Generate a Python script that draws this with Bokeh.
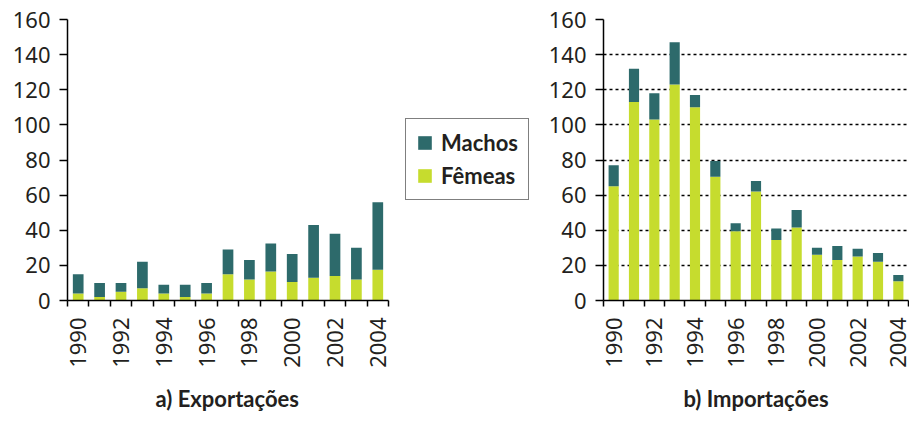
from bokeh.plotting import figure
from bokeh.layouts import row
from bokeh.models import (ColumnDataSource, Range1d, FixedTicker, Legend, LegendItem, Title)
from bokeh.embed import file_html
from bokeh.resources import INLINE

# ---- data ----
years = [1990, 1991, 1992, 1993, 1994, 1995, 1996, 1997, 1998, 1999, 2000, 2001, 2002, 2003, 2004]
label_years = [1990, 1992, 1994, 1996, 1998, 2000, 2002, 2004]
y_ticks = [0, 20, 40, 60, 80, 100, 120, 140, 160]

exp_femeas = [4, 2, 5, 7, 4, 2, 4, 15, 12, 16.5, 10.5, 13, 14, 12, 17.5]
exp_machos = [11, 8, 5, 15, 5, 7, 6, 14, 11, 16, 16, 30, 24, 18, 38.5]

imp_femeas = [65, 113, 103, 123, 110, 70.5, 39.5, 62, 34.5, 41.5, 26, 23, 25, 22, 11]
imp_machos = [12, 19, 15, 24, 7, 9, 4.5, 6, 6.5, 10, 4, 8, 4.5, 5, 3.5]

series = ["Fêmeas", "Machos"]
titles = ["a) Exportações", "b) Importações"]

C_MACHOS = "#2d6a6b"
C_FEMEAS = "#c6dc2e"
TXT = "#231f20"
NUM_FONT = "Noto Sans"
BOLD_FONT = "Lato"

H = 423
TOP = 19
FRAME_H = 285
TITLE_W = 145  # approx. rendered width of the chart title text, px


def make_fig(fem, mac, title, grid, width, border_left, border_right, axis_px):
    frame_w = width - border_left - border_right
    x0 = years[0] - 0.5
    x1 = years[-1] + 0.5
    # the axis itself spans axis_px pixels; the frame may be wider (room for the legend)
    x_end = x0 + (x1 - x0) * frame_w / axis_px
    src = ColumnDataSource(dict(year=years, fem=fem, mac=mac))
    p = figure(width=width, height=H,
               x_range=Range1d(x0, x_end),
               y_range=Range1d(0, 160),
               output_backend="svg", toolbar_location=None,
               min_border_left=border_left, min_border_top=TOP,
               min_border_right=border_right, min_border_bottom=H - TOP - FRAME_H)
    rs = p.vbar_stack(["fem", "mac"], x="year", width=0.5, source=src,
                      color=[C_FEMEAS, C_MACHOS], line_color=None)
    p.outline_line_color = None
    p.background_fill_color = "white"
    p.border_fill_color = "white"

    # x axis
    xa = p.xaxis[0]
    xa.bounds = (x0, x1)
    xa.ticker = FixedTicker(ticks=label_years,
                            minor_ticks=[y - 0.5 for y in years] + [x1])
    xa.major_tick_line_color = None
    xa.major_tick_out = 6
    xa.major_tick_in = 0
    xa.minor_tick_out = 6
    xa.minor_tick_in = 0
    xa.minor_tick_line_color = "black"
    xa.minor_tick_line_width = 1.5
    xa.axis_line_color = "black"
    xa.axis_line_width = 1.5
    xa.major_label_orientation = 1.5707963
    xa.major_label_standoff = 11
    xa.major_label_text_font = NUM_FONT
    xa.major_label_text_font_size = "22px"
    xa.major_label_text_color = TXT

    # chart title under the axis, centred on the axis span
    if frame_w == axis_px:
        t = Title(text=title, align="center")
    else:
        t = Title(text=title, align="left", offset=(axis_px - TITLE_W) / 2)
    t.standoff = 24
    t.text_font = BOLD_FONT
    t.text_font_style = "bold"
    t.text_font_size = "22px"
    t.text_color = TXT
    p.add_layout(t, "below")

    # y axis
    ya = p.yaxis[0]
    ya.ticker = FixedTicker(ticks=y_ticks)
    ya.minor_tick_line_color = None
    ya.major_tick_out = 8
    ya.major_tick_in = 0
    ya.major_tick_line_color = "black"
    ya.major_tick_line_width = 1.5
    ya.axis_line_color = "black"
    ya.axis_line_width = 1.5
    ya.major_label_standoff = 9
    ya.major_label_text_font = NUM_FONT
    ya.major_label_text_font_size = "22px"
    ya.major_label_text_color = TXT

    p.xgrid.grid_line_color = None
    if grid:
        p.ygrid.grid_line_color = "black"
        p.ygrid.grid_line_dash = "3 3"
        p.ygrid.grid_line_width = 1.5
        p.ygrid.ticker = FixedTicker(ticks=y_ticks[1:])
    else:
        p.ygrid.grid_line_color = None
    return p, rs


p1, rs1 = make_fig(exp_femeas, exp_machos, titles[0], False, 545, 67, 0, 321)
p2, rs2 = make_fig(imp_femeas, imp_machos, titles[1], True, 364, 57, 1, 306)

legend = Legend(items=[LegendItem(label=series[1], renderers=[rs1[1]]),
                       LegendItem(label=series[0], renderers=[rs1[0]])],
                location=(338, 100), orientation="vertical",
                glyph_width=17, glyph_height=17, label_height=20,
                label_standoff=8, spacing=6, padding=10, margin=0,
                label_text_font=BOLD_FONT, label_text_font_style="bold",
                label_text_font_size="22px", label_text_color=TXT,
                border_line_color="black", border_line_width=1.5,
                background_fill_color="white", background_fill_alpha=1)
p1.add_layout(legend)

layout = row(p1, p2, spacing=0)
open("out.html", "w").write(file_html(layout, INLINE))
